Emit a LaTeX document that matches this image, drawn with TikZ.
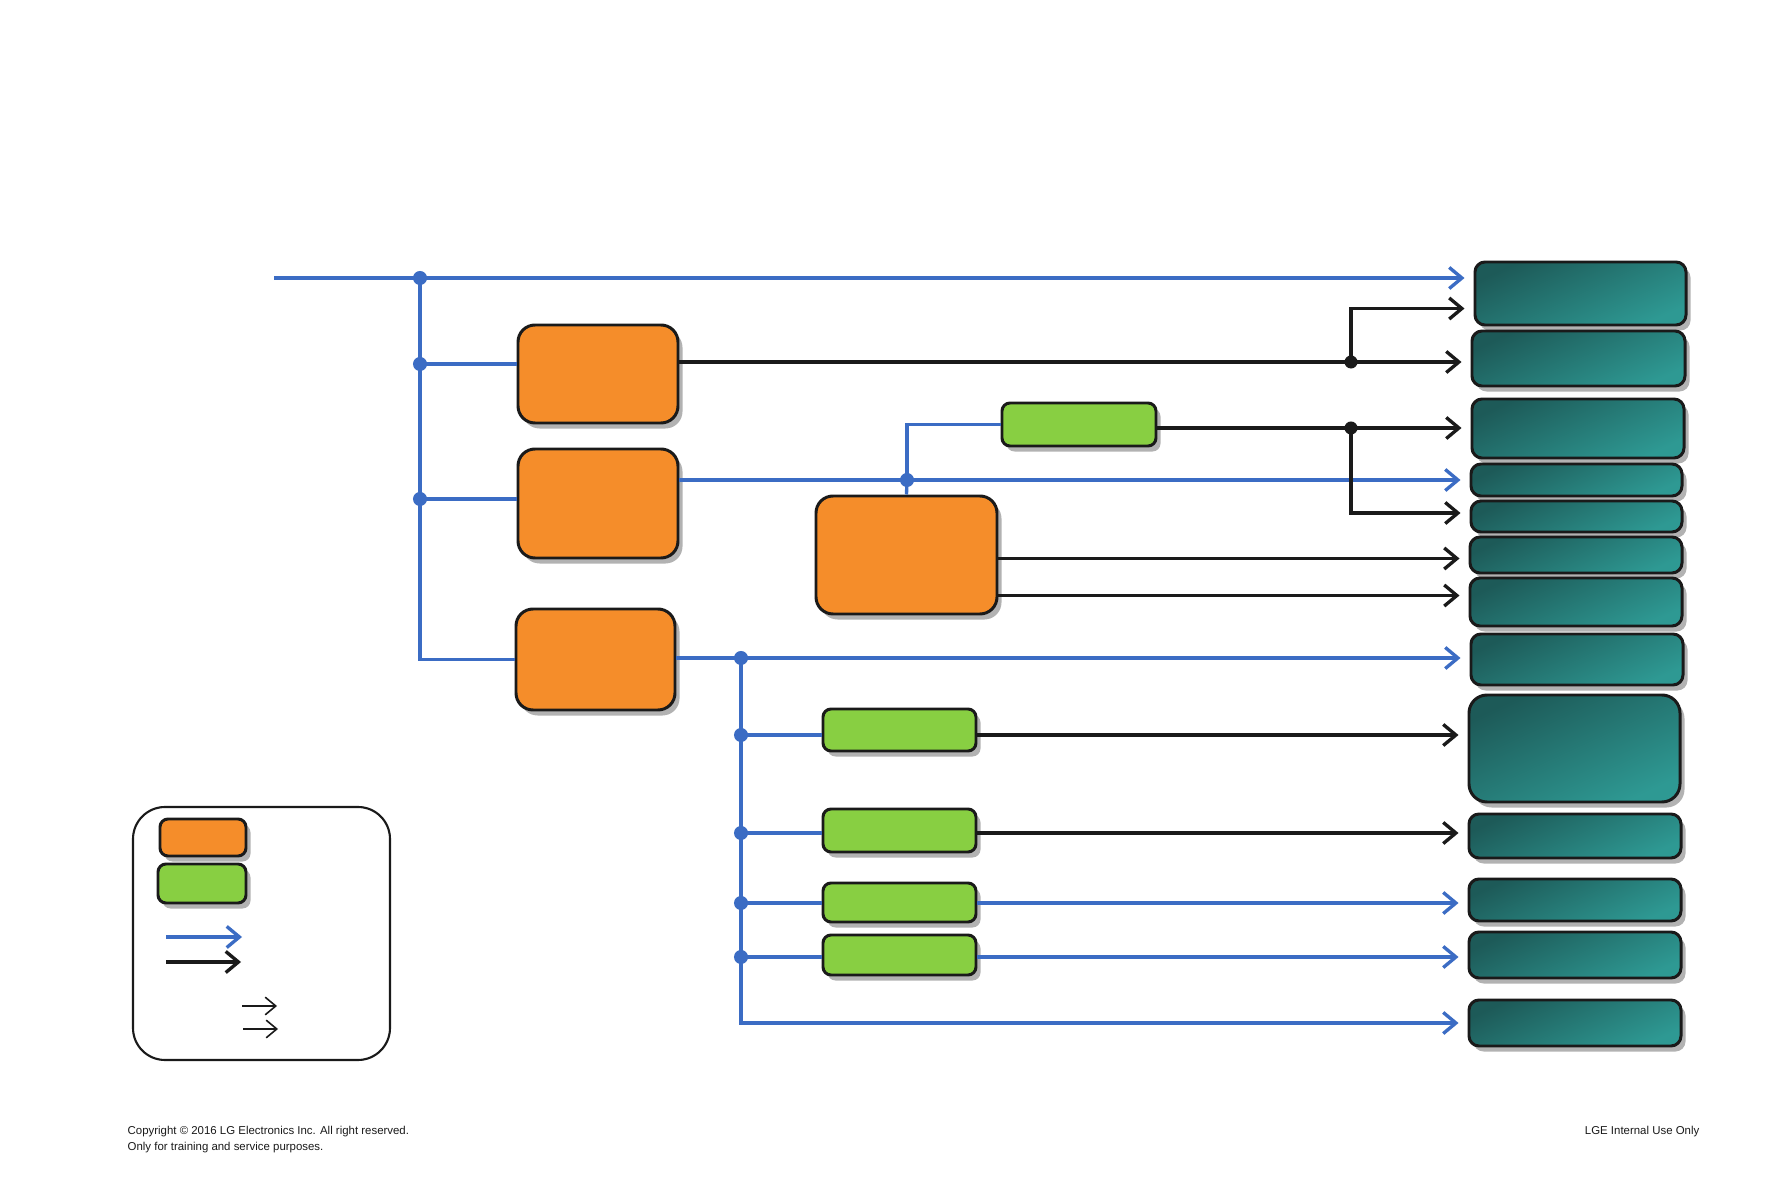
\documentclass[tikz,border=0pt]{standalone}
\usepackage{fontspec}
\setmainfont{Liberation Sans}
\usetikzlibrary{arrows.meta,shadows,fit}
\definecolor{lnblue}{HTML}{3B6CC4}
\definecolor{lnblack}{HTML}{1A1A1A}
\definecolor{boxorange}{HTML}{F58D2A}
\definecolor{boxgreen}{HTML}{88CF42}
\definecolor{tealdark}{HTML}{1D5A58}
\definecolor{teallight}{HTML}{2E9993}
\tikzset{
 boxshadow/.style={drop shadow={shadow xshift=0.045cm,shadow yshift=-0.055cm,fill=black,opacity=0.3}},
 obox/.style={draw=lnblack,line width=0.85pt,fill=boxorange,rounded corners=0.17cm,inner sep=0pt,boxshadow},
 gbox/.style={draw=lnblack,line width=0.85pt,fill=boxgreen,rounded corners=0.08cm,inner sep=0pt,boxshadow},
 tbox/.style={draw=lnblack,line width=0.85pt,top color=tealdark,bottom color=teallight,shading angle=25,rounded corners=0.1cm,inner sep=0pt,boxshadow},
 bl/.style={draw=lnblue,line width=0.95pt},
 bk/.style={draw=lnblack,line width=0.95pt},
 tip/.style={-{Straight Barb[length=3.6pt,width=6pt,line width=0.95pt]},shorten >=0.09cm},
 smalltip/.style={-{Straight Barb[length=3pt,width=5pt,line width=0.45pt]}},
 bdot/.style={circle,fill=lnblue,inner sep=0pt,minimum size=0.14cm},
 kdot/.style={circle,fill=lnblack,inner sep=0pt,minimum size=0.13cm},
 foot/.style={font=\fontsize{3.25}{4}\selectfont,text=lnblack,inner sep=0pt},
}
\begin{document}
\begin{tikzpicture}[x=0.01cm,y=-0.01cm]
\fill[white] (0,0) rectangle (1765,1191);
\useasboundingbox (0,0) rectangle (1765,1191);

% orange blocks
\node[obox,fit={(518,325)(678,423)}] (o1) {};
\node[obox,fit={(518,449)(678,558)}] (o2) {};
\node[obox,fit={(516,609)(675,710)}] (o3) {};
\node[obox,fit={(816,496)(997,614)}] (o4) {};

% green blocks
\node[gbox,fit={(1002,403)(1156,446)}] (g0) {};
\node[gbox,fit={(823,709)(976,751)}] (g1) {};
\node[gbox,fit={(823,809)(976,852)}] (g2) {};
\node[gbox,fit={(823,883)(976,922)}] (g3) {};
\node[gbox,fit={(823,935)(976,975)}] (g4) {};

% teal blocks
\node[tbox,fit={(1475,262)(1686,325)}] (t1) {};
\node[tbox,fit={(1472,331)(1685,386)}] (t2) {};
\node[tbox,fit={(1472,399)(1684,458)}] (t3) {};
\node[tbox,fit={(1471,464)(1682,496)}] (t4) {};
\node[tbox,fit={(1471,501)(1682,532)}] (t5) {};
\node[tbox,fit={(1470,537)(1682,573)}] (t6) {};
\node[tbox,fit={(1470,578)(1682,626)}] (t7) {};
\node[tbox,fit={(1471,634)(1683,685)}] (t8) {};
\node[tbox,rounded corners=0.18cm,fit={(1469,695)(1680,802)}] (t9) {};
\node[tbox,fit={(1469,814)(1681,858)}] (t10) {};
\node[tbox,fit={(1469,879)(1681,921)}] (t11) {};
\node[tbox,fit={(1469,932)(1681,978)}] (t12) {};
\node[tbox,fit={(1469,1000)(1681,1046)}] (t13) {};

% junction dots
\node[bdot] (j1) at (420,278) {};
\node[bdot] (j2) at (420,364) {};
\node[bdot] (j3) at (420,499) {};
\node[bdot] (jb) at (907,480) {};
\node[bdot] (jc) at (741,658) {};
\node[bdot] (jc1) at (741,735) {};
\node[bdot] (jc2) at (741,833) {};
\node[bdot] (jc3) at (741,903) {};
\node[bdot] (jc4) at (741,957) {};
\node[kdot] (k1) at (1351,362) {};
\node[kdot] (k2) at (1351,428) {};

% input line
\coordinate (in) at (274,278);
\draw[bl,tip] (in) -- (in -| t1.west);
\draw[bl] (j1.center) |- (o3.west);
\draw[bl] (j2.center) -- (j2 -| o1.west);
\draw[bl] (j3.center) -- (j3 -| o2.west);

% block 1 outputs
\draw[bk] (o1.east |- k1) -- (k1.center);
\draw[bk,tip] (k1.center) -- (k1 -| t2.west);
\draw[bk,tip] (k1.center) |- ([yshift=-0.15cm]t1.west);

% block 2 outputs
\draw[bl,tip] (o2.east |- jb) -- (jb -| t4.west);
\draw[bl] (jb.center) |- (g0.west);
\draw[bl] (jb.center) -- (o4.north);
\draw[bk] (g0.east |- k2) -- (k2.center);
\draw[bk,tip] (k2.center) -- (k2 -| t3.west);
\draw[bk,tip] (k2.center) |- ([yshift=0.035cm]t5.west);

% block 4 outputs
\coordinate (s1) at ([yshift=-0.035cm]o4.east);
\coordinate (s2) at ([yshift=-0.405cm]o4.east);
\draw[bk,tip] (s1) -- (s1 -| t6.west);
\draw[bk,tip] (s2) -- (s2 -| t7.west);

% block 3 outputs
\draw[bl,tip] (o3.east |- jc) -- (jc -| t8.west);
\draw[bl,tip] (jc.center) |- (t13.west);
\draw[bl] (jc1.center) -- (jc1 -| g1.west);
\draw[bl] (jc2.center) -- (jc2 -| g2.west);
\draw[bl] (jc3.center) -- (jc3 -| g3.west);
\draw[bl] (jc4.center) -- (jc4 -| g4.west);
\draw[bk,tip] (g1.east |- jc1) -- (jc1 -| t9.west);
\draw[bk,tip] (g2.east |- jc2) -- (jc2 -| t10.west);
\draw[bl,tip] (g3.east |- jc3) -- (jc3 -| t11.west);
\draw[bl,tip] (g4.east |- jc4) -- (jc4 -| t12.west);

% legend
\node[draw=lnblack,line width=0.6pt,rounded corners=0.32cm,inner sep=0pt,fit={(133,807)(390,1060)}] (leg) {};
\node[obox,rounded corners=0.08cm,fit={(160,819)(246,856)}] (lo) {};
\node[gbox,fit={(158,864)(246,903)}] (lg) {};
\coordinate (la1) at (166,937); \coordinate (la2) at (242,937);
\coordinate (lb1) at (166,962); \coordinate (lb2) at (241,962);
\coordinate (lc1) at (242,1006); \coordinate (lc2) at (277,1006);
\coordinate (ld1) at (243,1029); \coordinate (ld2) at (278,1029);
\draw[bl,-{Straight Barb[length=3.6pt,width=6pt,line width=0.95pt]}] (la1) -- (la2);
\draw[bk,-{Straight Barb[length=3.6pt,width=6pt,line width=0.95pt]}] (lb1) -- (lb2);
\draw[draw=lnblack,line width=0.45pt,smalltip] (lc1) -- (lc2);
\draw[draw=lnblack,line width=0.45pt,smalltip] (ld1) -- (ld2);

% footer
\node[foot,anchor=base west] (c1) at (127,1135) {Copyright © 2016 LG Electronics Inc. All right reserved.};
\node[foot,anchor=base west] (c2) at (127,1150) {Only for training and service purposes.};
\node[foot,anchor=base east] (c3) at (1700,1135) {LGE Internal Use Only};
\end{tikzpicture}
\end{document}
